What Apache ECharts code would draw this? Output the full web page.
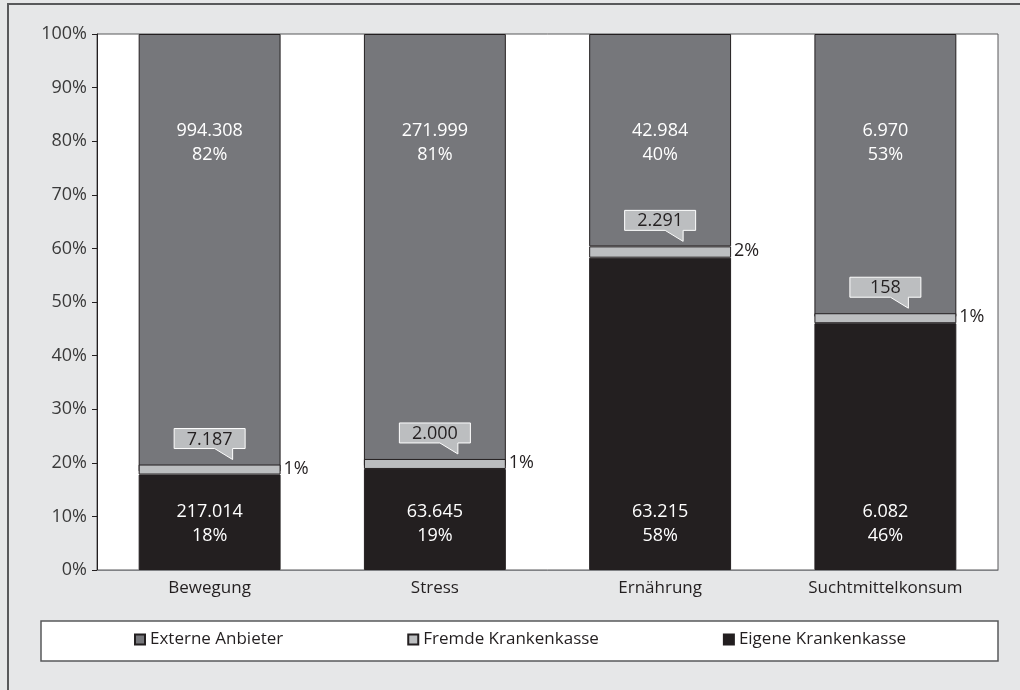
<!DOCTYPE html>
<html>
<head>
<meta charset="utf-8">
<script src="https://cdn.jsdelivr.net/npm/echarts@6/dist/echarts.min.js"></script>
<style>
  html, body { margin: 0; padding: 0; background: #e6e7e8; }
  #chart { width: 1020px; height: 690px; }
</style>
</head>
<body>
<div id="chart"></div>
<script>
// Daten (Teilnehmerzahlen je Handlungsfeld)
const categories = ['Bewegung', 'Stress', 'Ernährung', 'Suchtmittelkonsum'];
const eigene = [217014, 63645, 63215, 6082];
const fremde = [7187, 2000, 2291, 158];
const externe = [994308, 271999, 42984, 6970];
const yTicks = [0, 10, 20, 30, 40, 50, 60, 70, 80, 90, 100];

const textColor = '#231f20';
const fontFamily = '"Open Sans", "Noto Sans", sans-serif';
const BAND_MIN = 10;

const totals = categories.map((c, i) => eigene[i] + fremde[i] + externe[i]);
const pct = (arr) => arr.map((v, i) => v / totals[i] * 100);
const eigenePct = pct(eigene);
const fremdePct = pct(fremde);
const externePct = pct(externe);

function fmt(n) {
  return String(n).replace(/\B(?=(\d{3})+(?!\d))/g, '.');
}

const chart = echarts.init(document.getElementById('chart'));

const labelFor = (raw) => (p) => fmt(raw[p.dataIndex]) + '\n' + Math.round(p.value) + '%';

const option = {
  backgroundColor: '#e6e7e8',
  textStyle: { fontFamily: fontFamily },
  animation: false,
  graphic: [
    {
      type: 'rect',
      shape: { x: 8, y: 4, width: 1100, height: 1000 },
      style: { fill: 'none', stroke: '#58595b', lineWidth: 2 },
      silent: true
    },
    {
      type: 'rect',
      shape: { x: 41, y: 621, width: 957, height: 40 },
      style: { fill: '#ffffff', stroke: '#58595b', lineWidth: 1.5 },
      silent: true,
      z: -1
    }
  ],
  grid: {
    left: 97,
    right: 22,
    top: 34,
    bottom: 120,
    show: true,
    backgroundColor: '#ffffff',
    borderColor: '#58595b',
    borderWidth: 1
  },
  legend: {
    data: ['Externe Anbieter', 'Fremde Krankenkasse', 'Eigene Krankenkasse'],
    left: 134,
    top: 631,
    padding: 0,
    itemGap: 124,
    itemWidth: 10,
    itemHeight: 10,
    icon: 'rect',
    textStyle: { color: textColor, fontSize: 17, fontFamily: fontFamily }
  },
  xAxis: {
    type: 'category',
    data: categories,
    axisLine: { show: true, lineStyle: { color: '#808285', width: 1 } },
    axisTick: { show: false },
    axisLabel: { color: textColor, fontSize: 17, margin: 10 }
  },
  yAxis: {
    type: 'value',
    min: yTicks[0],
    max: yTicks[yTicks.length - 1],
    interval: 10,
    axisLine: { show: true, lineStyle: { color: textColor, width: 1 } },
    axisTick: { show: true, length: 5, lineStyle: { color: textColor } },
    splitLine: { show: false },
    axisLabel: { color: '#3a3a3a', fontSize: 18, margin: 10, formatter: '{value}%' }
  },
  series: [
    {
      name: 'Eigene Krankenkasse',
      type: 'bar',
      stack: 'total',
      barWidth: '63%',
      data: eigenePct,
      itemStyle: { color: '#231f20', borderColor: '#231f20', borderWidth: 1 },
      label: {
        show: true,
        position: 'insideBottom',
        distance: 22,
        color: '#ffffff',
        fontSize: 18,
        lineHeight: 24,
        formatter: labelFor(eigene)
      }
    },
    {
      name: 'Fremde Krankenkasse',
      type: 'bar',
      stack: 'total',
      data: fremdePct,
      barMinHeight: BAND_MIN,
      z: 3,
      itemStyle: { color: '#bcbec0', borderColor: '#231f20', borderWidth: 1 }
    },
    {
      name: 'Externe Anbieter',
      type: 'bar',
      stack: 'total',
      data: externePct,
      itemStyle: { color: '#76777b', borderColor: '#231f20', borderWidth: 1 },
      label: {
        show: true,
        position: 'insideTop',
        distance: 85,
        color: '#ffffff',
        fontSize: 18,
        lineHeight: 24,
        formatter: labelFor(externe)
      }
    },
    {
      // Sprechblasen und Prozentangaben für "Fremde Krankenkasse"
      name: 'callouts',
      type: 'custom',
      z: 5,
      silent: true,
      data: categories.map((c, i) => [i, eigenePct[i], fremdePct[i], fremde[i]]),
      encode: { x: 0, y: 1 },
      renderItem: function (params, api) {
        const i = api.value(0);
        const base = api.coord([i, api.value(1)]);
        const topReal = api.coord([i, api.value(1) + api.value(2)])[1];
        const bandTop = Math.min(topReal, base[1] - BAND_MIN);
        const bandMid = (bandTop + base[1]) / 2;
        const barHalf = api.size([1, 0])[0] * 0.63 / 2;
        const cx = base[0];
        const boxW = 71, boxH = 20;
        const boxBottom = bandTop - 16;
        const boxTop = boxBottom - boxH;
        const x0 = cx - boxW / 2, x1 = cx + boxW / 2;
        const points = [
          [x0, boxTop], [x1, boxTop], [x1, boxBottom],
          [cx + 23, boxBottom], [cx + 23, boxBottom + 11], [cx + 5, boxBottom],
          [x0, boxBottom]
        ];
        return {
          type: 'group',
          children: [
            {
              type: 'polygon',
              shape: { points: points },
              style: { fill: '#bcbec0', stroke: '#ffffff', lineWidth: 1 }
            },
            {
              type: 'text',
              style: {
                text: fmt(api.value(3)),
                x: cx,
                y: boxTop + boxH / 2 + 1,
                align: 'center',
                verticalAlign: 'middle',
                fill: textColor,
                font: '18px ' + fontFamily
              }
            },
            {
              type: 'text',
              style: {
                text: Math.round(api.value(2)) + '%',
                x: cx + barHalf + 3,
                y: bandMid - 1,
                align: 'left',
                verticalAlign: 'middle',
                fill: textColor,
                font: '18px ' + fontFamily
              }
            }
          ]
        };
      }
    }
  ]
};

chart.setOption(option);
</script>
</body>
</html>
